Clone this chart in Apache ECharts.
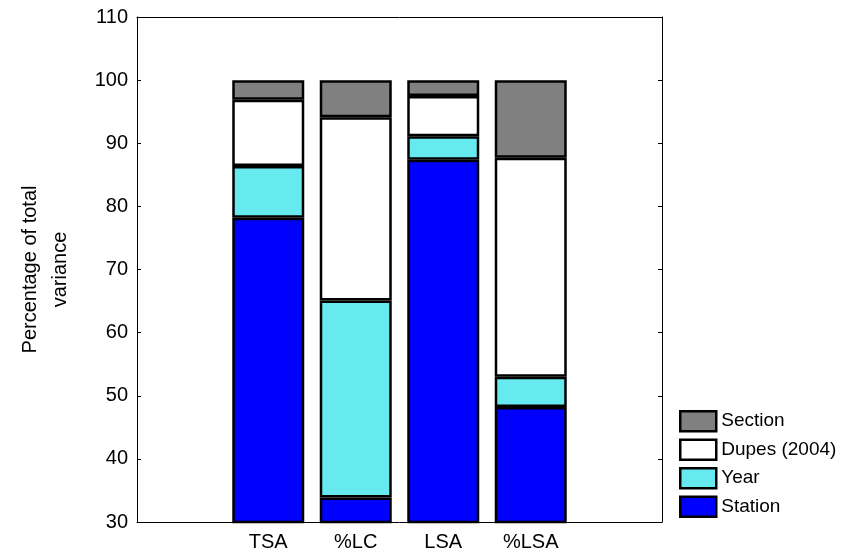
<!DOCTYPE html>
<html><head><meta charset="utf-8">
<script src="https://cdn.jsdelivr.net/npm/echarts@6/dist/echarts.min.js"></script>
<style>html,body{margin:0;padding:0;background:#fff}#c{width:857px;height:556px}</style>
</head><body><div id="c"></div>
<script>
var categories = ['', 'TSA', '%LC', 'LSA', '%LSA', ''];
var station = ['-', 78.2, 33.9, 87.4, 48.2, '-'];
var year = ['-', 8.2, 31.2, 3.7, 4.8, '-'];
var dupes = ['-', 10.5, 29.0, 6.4, 34.7, '-'];
var section = ['-', 3.1, 5.9, 2.5, 12.3, '-'];
var yTicks = [30, 110, 10];

var font = 'Liberation Sans, Arial, sans-serif';
function mk(name, data, color) {
  return {name: name, type: 'bar', stack: 'v', data: data, barWidth: 72,
    itemStyle: {color: color, borderColor: '#000', borderWidth: 2.5},
    emphasis: {disabled: true}};
}
var chart = echarts.init(document.getElementById('c'));
chart.setOption({
  animation: false,
  grid: {left: 137, right: 195, top: 17, bottom: 34},
  legend: {
    data: ['Section', 'Dupes (2004)', 'Year', 'Station'],
    orient: 'vertical', left: 674, top: 405, itemWidth: 36, itemHeight: 20, itemGap: 6, icon: 'rect',
    textStyle: {fontFamily: font, fontSize: 19, color: '#000'},
    itemStyle: {borderColor: '#000', borderWidth: 2.5}
  },
  xAxis: [{
    type: 'category', data: categories, boundaryGap: true,
    axisLine: {lineStyle: {color: '#000', width: 1}},
    axisTick: {alignWithLabel: true, inside: true, length: 4, lineStyle: {color: '#000'}},
    axisLabel: {fontFamily: font, fontSize: 20, color: '#000', margin: 10, interval: 0}
  }, {
    type: 'category', data: categories, position: 'top', boundaryGap: true,
    axisLine: {lineStyle: {color: '#000', width: 1}},
    axisTick: {alignWithLabel: true, inside: true, length: 4, lineStyle: {color: '#000'}},
    axisLabel: {show: false}
  }],
  yAxis: [{
    type: 'value', min: yTicks[0], max: yTicks[1], interval: yTicks[2],
    name: 'Percentage of total\nvariance', nameLocation: 'middle', nameGap: 62,
    nameTextStyle: {fontFamily: font, fontSize: 20, color: '#000', lineHeight: 30},
    axisLine: {show: true, lineStyle: {color: '#000', width: 1}},
    axisTick: {show: true, inside: true, length: 4, lineStyle: {color: '#000'}},
    axisLabel: {fontFamily: font, fontSize: 20, color: '#000', margin: 9},
    splitLine: {show: false}
  }, {
    type: 'value', min: yTicks[0], max: yTicks[1], interval: yTicks[2], position: 'right',
    axisLine: {show: true, lineStyle: {color: '#000', width: 1}},
    axisTick: {show: true, inside: true, length: 4, lineStyle: {color: '#000'}},
    axisLabel: {show: false}, splitLine: {show: false}
  }],
  series: [
    mk('Station', station, '#0000FF'),
    mk('Year', year, '#66EAF0'),
    mk('Dupes (2004)', dupes, '#FFFFFF'),
    mk('Section', section, '#808080')
  ]
});
</script></body></html>
